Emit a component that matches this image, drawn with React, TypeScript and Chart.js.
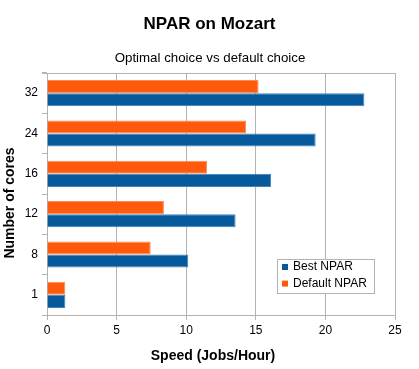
import React, { useEffect, useRef } from "react";
import { Chart, registerables } from "chart.js";

Chart.register(...registerables);

// ---- data ----
const categories = ["32", "24", "16", "12", "8", "1"];
const bestNpar = [22.8, 19.3, 16.1, 13.55, 10.15, 1.32];
const defaultNpar = [15.2, 14.3, 11.5, 8.4, 7.45, 1.32];
const seriesNames = ["Best NPAR", "Default NPAR"];
const xMin = 0;
const xMax = 25;
const xStep = 5;
const titleText = "NPAR on Mozart";
const subtitleText = "Optimal choice vs default choice";
const xTitleText = "Speed (Jobs/Hour)";
const yTitleText = "Number of cores";

// ---- style ----
const FONT = "'Liberation Sans', Arial, Helvetica, sans-serif";
const BLUE = "#065a9b";
const ORANGE = "#ff5a0c";
const BLUE_EDGE = "#3f83bd";
const ORANGE_EDGE = "#ff8a55";
const GRID = "#b3b3b3";

const decorPlugin = {
  id: "decor",
  afterDraw(chart: any) {
    const { ctx, chartArea: a, width } = chart;
    ctx.save();
    // titles
    ctx.fillStyle = "#000";
    ctx.textAlign = "center";
    ctx.textBaseline = "middle";
    ctx.font = `bold 17px ${FONT}`;
    ctx.fillText(titleText, width / 2, 24.5);
    ctx.font = `13.3px ${FONT}`;
    ctx.fillText(subtitleText, width / 2 + 0.5, 58.5);

    // top frame line
    ctx.strokeStyle = GRID;
    ctx.lineWidth = 1;
    ctx.beginPath();
    ctx.moveTo(a.left - 5, Math.round(a.top) + 0.5);
    ctx.lineTo(a.right + 0.5, Math.round(a.top) + 0.5);
    ctx.stroke();

    // axis titles
    ctx.font = `bold 14px ${FONT}`;
    ctx.fillText(xTitleText, (a.left + a.right) / 2 - 8, 356.5);
    ctx.save();
    ctx.translate(10, 203);
    ctx.rotate(-Math.PI / 2);
    ctx.fillText(yTitleText, 0, 0);
    ctx.restore();

    // legend box
    const bx = a.right - 118;
    const by = a.top + 186;
    const bw = 97;
    const bh = 34;
    ctx.fillStyle = "#fff";
    ctx.fillRect(bx, by, bw, bh);
    ctx.strokeStyle = GRID;
    ctx.strokeRect(bx + 0.5, by + 0.5, bw, bh);
    const items = [
      { name: seriesNames[0], color: BLUE },
      { name: seriesNames[1], color: ORANGE },
    ];
    ctx.font = `12px ${FONT}`;
    ctx.textAlign = "left";
    ctx.textBaseline = "middle";
    items.forEach((it, i) => {
      const cy = by + 8 + i * 16.6;
      ctx.fillStyle = it.color;
      ctx.fillRect(bx + 5, cy - 3, 6, 6);
      ctx.fillStyle = "#000";
      ctx.fillText(it.name, bx + 16, cy);
    });
    ctx.restore();
  },
};

export default function App() {
  const ref = useRef<HTMLCanvasElement | null>(null);

  useEffect(() => {
    if (!ref.current) return;
    const chart = new Chart(ref.current, {
      type: "bar",
      data: {
        labels: categories,
        datasets: [
          {
            label: seriesNames[1],
            data: defaultNpar,
            backgroundColor: ORANGE,
            borderColor: ORANGE_EDGE,
            borderWidth: 1,
            categoryPercentage: 0.65,
            barPercentage: 1,
          },
          {
            label: seriesNames[0],
            data: bestNpar,
            backgroundColor: BLUE,
            borderColor: BLUE_EDGE,
            borderWidth: 1,
            categoryPercentage: 0.65,
            barPercentage: 1,
          },
        ],
      },
      options: {
        indexAxis: "y",
        animation: false,
        responsive: true,
        maintainAspectRatio: false,
        layout: { padding: { left: 0, right: 24, top: 73, bottom: 0 } },
        plugins: {
          legend: { display: false },
          tooltip: { enabled: false },
          title: { display: false },
          subtitle: { display: false },
        },
        scales: {
          x: {
            type: "linear",
            min: xMin,
            max: xMax,
            ticks: {
              stepSize: xStep,
              color: "#000",
              padding: 3,
              font: { family: FONT, size: 12 },
            },
            grid: { color: GRID, tickLength: 5, drawTicks: true },
            border: { display: true, color: GRID },
            afterFit(scale: any) {
              scale.height = 54;
            },
          },
          y: {
            type: "category",
            ticks: {
              color: "#000",
              padding: 4,
              font: { family: FONT, size: 12 },
            },
            grid: {
              color: GRID,
              offset: true,
              drawOnChartArea: false,
              tickLength: 5,
            },
            border: { display: true, color: GRID },
            afterFit(scale: any) {
              scale.width = 47;
            },
          },
        },
      },
      plugins: [decorPlugin],
    } as any);
    return () => chart.destroy();
  }, []);

  return (
    <div
      style={{
        position: "fixed",
        left: 0,
        top: 0,
        width: 419,
        height: 369,
        background: "#fff",
      }}
    >
      <canvas ref={ref} />
    </div>
  );
}
